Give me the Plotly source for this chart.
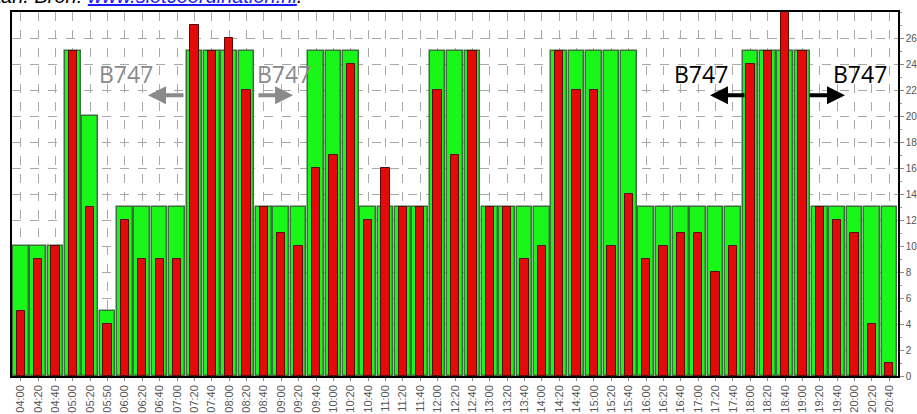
import plotly.graph_objects as go

# Tijdslots (20 min) en aantallen
slots = ['04:00', '04:20', '04:40', '05:00', '05:20', '05:50', '06:00', '06:20', '06:40',
         '07:00', '07:20', '07:40', '08:00', '08:20', '08:40', '09:00', '09:20', '09:40',
         '10:00', '10:20', '10:40', '11:00', '11:20', '11:40', '12:00', '12:20', '12:40',
         '13:00', '13:20', '13:40', '14:00', '14:20', '14:40', '15:00', '15:20', '15:40',
         '16:00', '16:20', '16:40', '17:00', '17:20', '17:40', '18:00', '18:20', '18:40',
         '19:00', '19:20', '19:40', '20:00', '20:20', '20:40']

capaciteit = [10, 10, 10, 25, 20, 5, 13, 13, 13,
              13, 25, 25, 25, 25, 13, 13, 13, 25,
              25, 25, 13, 13, 13, 13, 25, 25, 25,
              13, 13, 13, 13, 25, 25, 25, 25, 25,
              13, 13, 13, 13, 13, 13, 25, 25, 25,
              25, 13, 13, 13, 13, 13]

vraag = [5, 9, 10, 25, 13, 4, 12, 9, 9,
         9, 27, 25, 26, 22, 13, 11, 10, 16,
         17, 24, 12, 16, 13, 13, 22, 17, 25,
         13, 13, 9, 10, 25, 22, 22, 10, 14,
         9, 10, 11, 11, 8, 10, 24, 25, 28,
         25, 13, 12, 11, 4, 1]

y_ticks = list(range(0, 28, 2))

GROEN = '#18f718'
GROEN_RAND = '#3d6e3d'
ROOD = '#e40a0a'
ROOD_RAND = '#5a0a0a'
GRIJS_GRID = '#a8a8a8'

fig = go.Figure()

fig.add_trace(go.Bar(
    x=slots, y=capaciteit,
    width=0.9,
    marker=dict(color=GROEN, line=dict(color=GROEN_RAND, width=1.5)),
    showlegend=False,
))
fig.add_trace(go.Bar(
    x=slots, y=vraag,
    width=0.48,
    marker=dict(color=ROOD, line=dict(color=ROOD_RAND, width=1)),
    showlegend=False,
))

# B747 labels met pijlen
def b747(x_tekst, x_kop, x_staart, kleur):
    fig.add_annotation(x=x_tekst, y=23.2, xref='paper', yref='y', text='B747',
                       xanchor='center', yanchor='middle', showarrow=False,
                       font=dict(family='Open Sans', size=23, color=kleur))
    fig.add_annotation(x=x_kop, y=21.6, xref='paper', yref='y', text='',
                       showarrow=True, ax=(x_staart - x_kop) * 886, ay=0,
                       arrowhead=2, arrowsize=0.9, arrowwidth=4, arrowcolor=kleur)

b747(0.1287, 0.1535, 0.1953, '#8a8a8a')
b747(0.3070, 0.3172, 0.2765, '#8a8a8a')
b747(0.7777, 0.7878, 0.8284, '#000000')
b747(0.9570, 0.9402, 0.8984, '#000000')

# afgesneden bronregel bovenaan
fig.add_annotation(
    x=-0.027, y=1.008, xref='paper', yref='paper', xanchor='left', yanchor='bottom',
    text="<i>aan. Bron: <span style='color:#1a1aff'><u>www.slotcoordination.nl</u></span>.</i>",
    showarrow=False, font=dict(family='Arial', size=20, color='#000000'),
)

fig.update_layout(
    barmode='overlay',
    bargap=0,
    width=917, height=414,
    margin=dict(l=12, r=19, t=12, b=38),
    paper_bgcolor='white',
    plot_bgcolor='white',
    font=dict(family='Arial'),
    xaxis=dict(
        type='category',
        tickangle=-90,
        tickfont=dict(size=11, color='#555555'),
        ticks='outside', ticklen=3, tickcolor='#888888',
        showgrid=True, gridcolor=GRIJS_GRID, griddash='dash', gridwidth=1,
        showline=True, linecolor='black', linewidth=1.5, mirror=True,
        automargin=False,
    ),
    yaxis=dict(
        side='right',
        range=[0, 28],
        tickvals=y_ticks,
        tickfont=dict(size=10, color='#555555'),
        ticks='outside', ticklen=4, tickcolor='#888888',
        minor=dict(dtick=1, ticks='outside', ticklen=2, tickcolor='#999999'),
        showgrid=True, gridcolor=GRIJS_GRID, griddash='dash', gridwidth=1,
        showline=True, linecolor='black', linewidth=1.5, mirror=True,
        zeroline=False,
        automargin=False,
    ),
)

# pagina zonder body-marge, zodat de figuur het venster precies vult
fig.write_html("out.html", config={'displayModeBar': False},
               post_script="document.body.style.margin='0';document.body.style.overflow='hidden';")
